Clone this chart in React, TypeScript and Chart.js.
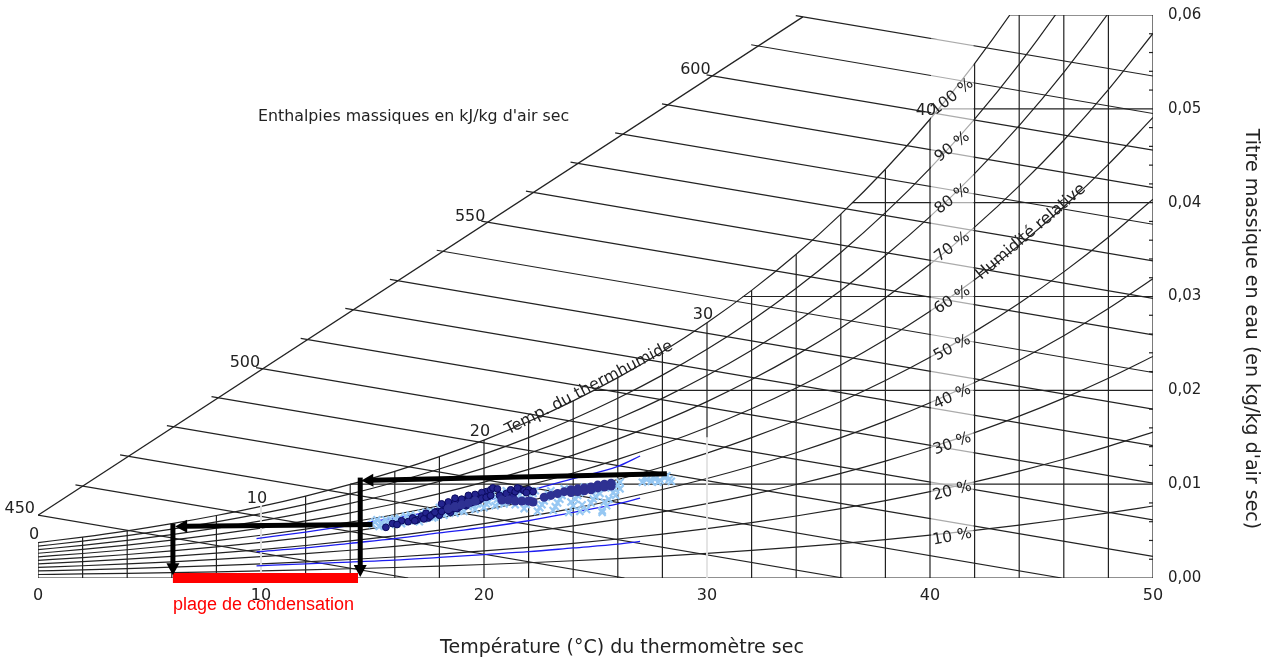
import React, { useEffect, useRef } from "react";
import { Chart, registerables } from "chart.js";

Chart.register(...registerables);

// ---------- Psychrometric grid ----------
const dryBulbTemps = [0, 2, 4, 6, 8, 10, 12, 14, 16, 18, 20, 22, 24, 26, 28, 30, 32, 34, 36, 38, 40, 42, 44, 46, 48, 50];
const saturationPressureKPa = [0.611, 0.706, 0.813, 0.935, 1.073, 1.228, 1.403, 1.599, 1.818, 2.064, 2.339, 2.645, 2.985, 3.363, 3.782, 4.246, 4.759, 5.324, 5.947, 6.632, 7.384, 8.208, 9.112, 10.099, 11.177, 12.352];
const atmosphericPressureKPa = 101.325;
const relativeHumidityLevels = [0.1, 0.2, 0.3, 0.4, 0.5, 0.6, 0.7, 0.8, 0.9, 1.0];
const rhLabelTexts = ["10 %", "20 %", "30 %", "40 %", "50 %", "60 %", "70 %", "80 %", "90 %", "100 %"];
const rhLabelMoisture = [0.00437, 0.00927, 0.01428, 0.01929, 0.02451, 0.02963, 0.03528, 0.04039, 0.04593, 0.05126];
const rhLabelAngles = [-10, -15, -20, -25, -28, -33, -37, -38, -38, -38];
const rhLabelTemp = 41;

const moistureGridLevels = [0, 0.01, 0.02, 0.03, 0.04, 0.05, 0.06];
const moistureGridStartTemp = [0, 14.0, 24.9, 31.6, 36.5, 40.4, 43.6];
const moistureMinorTicks = [0.002, 0.004, 0.006, 0.008, 0.012, 0.014, 0.016, 0.018, 0.022, 0.024, 0.026, 0.028, 0.032, 0.034, 0.036, 0.038, 0.042, 0.044, 0.046, 0.048, 0.052, 0.054, 0.056, 0.058];

const enthalpyScaleValues = [450, 460, 470, 480, 490, 500, 510, 520, 530, 540, 550, 560, 570, 580, 590, 600, 610, 620];
const enthalpyStartTemp = [0.0, 2.0, 4.0, 6.1, 8.1, 10.1, 12.1, 14.1, 16.1, 18.2, 20.2, 22.2, 24.2, 26.2, 28.3, 30.3, 32.3, 34.3];
const enthalpyStartMoisture = [0.0067, 0.0098, 0.013, 0.0161, 0.0192, 0.0223, 0.0254, 0.0286, 0.0317, 0.0348, 0.0379, 0.0411, 0.0442, 0.0473, 0.0504, 0.0535, 0.0567, 0.0598];
const enthalpyEndTemp = [16.6, 26.3, 36.1, 45.9, 50, 50, 50, 50, 50, 50, 50, 50, 50, 50, 50, 50, 50, 50];
const enthalpyEndMoisture = [0, 0, 0, 0, 0.0023, 0.0062, 0.0101, 0.0141, 0.018, 0.0219, 0.0259, 0.0298, 0.0338, 0.0377, 0.0416, 0.0456, 0.0495, 0.0535];
const enthalpyLabeledValues = [450, 500, 550, 600];
const wetBulbLabelTemps = [0, 10, 20, 30, 40];

const whiteGapTemps = [10, 30];
const whiteGapTop = [0.008, 0.015];

// ---------- Measured data ----------
const measuredCurveTemps = [9.8, 12, 14, 16, 18, 20, 22, 24, 26, 27];
const measuredCurveHigh = [0.0042, 0.0049, 0.0056, 0.0064, 0.0072, 0.0082, 0.0093, 0.0106, 0.0119, 0.013];
const measuredCurveMid = [0.0028, 0.0032, 0.0037, 0.0042, 0.0048, 0.0054, 0.0061, 0.007, 0.0079, 0.0085];
const measuredCurveLow = [0.0013, 0.0015, 0.0017, 0.0019, 0.0022, 0.0025, 0.0028, 0.0032, 0.0036, 0.0039];

const lightBlueTemp = [15.0, 15.1, 15.3, 15.4, 15.6, 15.8, 15.9, 16.1, 16.2, 16.4, 16.6, 16.7, 16.9, 17.0, 17.2, 17.3, 17.5, 17.6, 17.8, 17.9, 18.1, 18.2, 18.4, 18.5, 18.7, 18.8, 19.0, 19.1, 19.3, 19.4, 19.6, 19.7, 19.9, 20.0, 20.2, 20.3, 20.5, 20.6, 20.8, 20.9, 21.1, 21.3, 21.4, 21.6, 21.8, 22.0, 22.2, 22.4, 22.6, 22.8, 23.0, 23.1, 23.3, 23.5, 23.6, 23.8, 24.0, 24.1, 24.3, 24.5, 24.6, 24.8, 25.0, 25.1, 25.3, 25.5, 25.6, 25.8, 26.0, 26.1, 27.1, 27.3, 27.5, 27.7, 27.9, 28.1, 28.3, 28.4, 27.6,
  15.2, 15.5, 15.7, 16.0, 16.3, 16.5, 16.8, 17.1, 17.4, 17.7, 18.0, 18.3, 18.6, 18.9, 19.2, 19.5, 19.8, 20.1, 20.4, 20.7, 21.0, 21.2, 21.5, 21.7, 21.9, 22.1, 22.3, 22.5, 22.7, 22.9, 23.2, 23.4, 23.7, 23.9, 24.2, 24.4, 24.7, 24.9, 25.2, 25.4, 25.7, 25.9, 26.1, 27.2, 27.8, 28.2, 24.3, 25.3];
const lightBlueMoisture = [0.0057, 0.006, 0.0055, 0.0059, 0.0062, 0.0057, 0.0061, 0.0059, 0.0064, 0.006, 0.0063, 0.0067, 0.0061, 0.0065, 0.0069, 0.0063, 0.0067, 0.0071, 0.0065, 0.0069, 0.0073, 0.0067, 0.0071, 0.0076, 0.0069, 0.0074, 0.0078, 0.0071, 0.0076, 0.0081, 0.0073, 0.0079, 0.0085, 0.0075, 0.0081, 0.0088, 0.0077, 0.0084, 0.0091, 0.0079, 0.0086, 0.0092, 0.0078, 0.0088, 0.0074, 0.0082, 0.009, 0.0071, 0.0078, 0.0086, 0.0093, 0.0072, 0.008, 0.0088, 0.0095, 0.007, 0.0077, 0.0084, 0.0091, 0.0097, 0.0073, 0.008, 0.0087, 0.0094, 0.007, 0.0077, 0.0084, 0.0091, 0.0099, 0.0102, 0.0102, 0.0105, 0.0103, 0.0106, 0.0104, 0.0107, 0.0105, 0.0103, 0.0108,
  0.0062, 0.0056, 0.006, 0.0063, 0.0058, 0.0066, 0.0063, 0.006, 0.007, 0.0064, 0.0075, 0.0069, 0.0079, 0.0072, 0.0083, 0.0077, 0.0088, 0.0079, 0.009, 0.008, 0.0093, 0.0081, 0.009, 0.0085, 0.0078, 0.0087, 0.0093, 0.0075, 0.0082, 0.0089, 0.0076, 0.0084, 0.0092, 0.0081, 0.0088, 0.0078, 0.0095, 0.0084, 0.009, 0.0081, 0.0096, 0.0088, 0.0095, 0.0107, 0.0102, 0.0109, 0.0071, 0.0072];

const navyTemp = [15.6, 15.9, 16.3, 16.6, 16.8, 17.0, 17.2, 17.4, 17.5, 17.7, 17.9, 18.0, 18.2, 18.3, 18.5, 18.6, 18.8, 18.9, 19.1, 19.2, 19.4, 19.5, 19.7, 19.8, 20.0, 20.1, 20.3, 20.4, 20.2, 19.9, 19.6, 19.3, 19.0, 18.7, 20.7, 21.0, 21.2, 21.3, 21.4, 21.6, 21.8, 22.0, 22.2, 22.1,
  16.1, 16.9, 17.3, 17.6, 17.8, 18.1, 18.4, 18.6, 18.9, 19.2, 19.4, 19.7, 19.9, 20.1, 20.3, 18.1, 18.4, 18.7, 19.3, 20.6, 21.5, 21.9];
const navyMoisture = [0.0054, 0.0058, 0.0061, 0.006, 0.0064, 0.0062, 0.0066, 0.0069, 0.0064, 0.0068, 0.0071, 0.0067, 0.0073, 0.0076, 0.007, 0.0078, 0.0074, 0.008, 0.0083, 0.0077, 0.0085, 0.0081, 0.0087, 0.0083, 0.0089, 0.0092, 0.0094, 0.0096, 0.0087, 0.0091, 0.0089, 0.0086, 0.0084, 0.0082, 0.0088, 0.009, 0.0094, 0.0087, 0.0092, 0.0095, 0.0093, 0.0094, 0.0092, 0.0082,
  0.0057, 0.0061, 0.0063, 0.0066, 0.007, 0.0071, 0.0072, 0.0074, 0.0076, 0.0079, 0.008, 0.0082, 0.0085, 0.0086, 0.0088, 0.0079, 0.0081, 0.0085, 0.0088, 0.0095, 0.0096, 0.0091];

const slateTemp = [18.4, 18.7, 19.0, 19.3, 19.6, 20.8, 21.1, 21.4, 21.7, 22.0, 22.2, 22.7, 23.0, 23.3, 23.6, 23.9, 24.2, 24.5, 24.8, 25.1, 25.4, 25.7, 23.9, 24.2, 24.5, 24.8, 25.1, 25.4, 25.7];
const slateMoisture = [0.0074, 0.0076, 0.0078, 0.008, 0.0082, 0.0083, 0.0083, 0.0082, 0.0082, 0.0082, 0.0081, 0.0086, 0.0088, 0.009, 0.0092, 0.0094, 0.0095, 0.0096, 0.0097, 0.0099, 0.01, 0.0101, 0.0091, 0.0092, 0.0093, 0.0094, 0.0096, 0.0097, 0.0098];

// condensation construction (arrows) and range
const arrowFromTemp = [28.2, 14.45, 15.0, 6.05];
const arrowFromMoisture = [0.0111, 0.0107, 0.0057, 0.0058];
const arrowToTemp = [14.5, 14.45, 6.15, 6.05];
const arrowToMoisture = [0.0104, 0.0001, 0.0055, 0.0003];
const condensationFromTemp = 6.05;
const condensationToTemp = 14.35;

const FONT = '"DejaVu Sans", sans-serif';

function humidityRatio(p: number) {
  return (0.622 * p) / (atmosphericPressureKPa - p);
}

const annotationPlugin = {
  id: "psychroAnnotations",
  afterDatasetsDraw(chart: any) {
    const { ctx, scales } = chart;
    const X = (v: number) => scales.x.getPixelForValue(v);
    const Y = (v: number) => scales.y.getPixelForValue(v);
    const satW = saturationPressureKPa.map(humidityRatio);
    ctx.save();

    // faded column behind the relative humidity labels
    ctx.fillStyle = "rgba(255,255,255,0.62)";
    ctx.fillRect(X(40) + 1, Y(0.0575), X(42) - X(40) - 2, Y(0.0035) - Y(0.0575));

    // small inner ticks on the right edge
    ctx.strokeStyle = "#222";
    ctx.lineWidth = 1.2;
    for (const v of moistureMinorTicks) {
      ctx.beginPath();
      ctx.moveTo(X(50) - 4, Y(v));
      ctx.lineTo(X(50), Y(v));
      ctx.stroke();
    }

    const text = (s: string, px: number, py: number, size: number, align: CanvasTextAlign = "center", angleDeg = 0, color = "#222", family = FONT) => {
      ctx.save();
      ctx.translate(px, py);
      ctx.rotate((angleDeg * Math.PI) / 180);
      ctx.font = `${size}px ${family}`;
      ctx.fillStyle = color;
      ctx.textAlign = align;
      ctx.textBaseline = "middle";
      ctx.fillText(s, 0, 0);
      ctx.restore();
    };

    // relative humidity labels
    rhLabelTexts.forEach((s, i) => text(s, X(rhLabelTemp), Y(rhLabelMoisture[i]), 15.5, "center", rhLabelAngles[i]));

    // wet bulb labels on the saturation curve
    wetBulbLabelTemps.forEach((t) => {
      const i = dryBulbTemps.indexOf(t);
      text(String(t), X(t) - 4, Y(satW[i]) - 8, 16);
    });

    // enthalpy scale labels
    enthalpyLabeledValues.forEach((v) => {
      const k = enthalpyScaleValues.indexOf(v);
      text(String(v), X(enthalpyStartTemp[k]) - 3, Y(enthalpyStartMoisture[k]) - 6, 16, "right");
    });

    // titles
    text("Enthalpies massiques en kJ/kg d'air sec", 258, 117, 15.8, "left");
    text("Temp. du thermhumide", 589, 388, 16, "center", -27.5);
    text("Humidité relative", 1031, 232, 16, "center", -40.5);
    text("Température (°C) du thermomètre sec", 622, 648, 19);
    text("Titre massique en eau (en kg/kg d'air sec)", 1251, 329, 19, "center", 90);

    // condensation range
    ctx.fillStyle = "#ff0000";
    ctx.fillRect(X(condensationFromTemp), Y(0) - 5, X(condensationToTemp) - X(condensationFromTemp), 10);
    text("plage de condensation", X(condensationFromTemp), 605, 18, "left", 0, "#ff0000", '"Liberation Sans", Arial, sans-serif');

    // arrows
    ctx.strokeStyle = "#000";
    ctx.fillStyle = "#000";
    arrowFromTemp.forEach((_, i) => {
      const x1 = X(arrowFromTemp[i]);
      const y1 = Y(arrowFromMoisture[i]);
      const x2 = X(arrowToTemp[i]);
      const y2 = Y(arrowToMoisture[i]);
      const ang = Math.atan2(y2 - y1, x2 - x1);
      const headLen = 12;
      const headHalf = 6.5;
      const bx = x2 - headLen * Math.cos(ang);
      const by = y2 - headLen * Math.sin(ang);
      ctx.lineWidth = 5;
      ctx.lineCap = "butt";
      ctx.beginPath();
      ctx.moveTo(x1, y1);
      ctx.lineTo(bx + 2 * Math.cos(ang), by + 2 * Math.sin(ang));
      ctx.stroke();
      ctx.beginPath();
      ctx.moveTo(x2, y2);
      ctx.lineTo(bx - headHalf * Math.sin(ang), by + headHalf * Math.cos(ang));
      ctx.lineTo(bx + headHalf * Math.sin(ang), by - headHalf * Math.cos(ang));
      ctx.closePath();
      ctx.fill();
    });

    ctx.restore();
  },
};

export default function App() {
  const canvasRef = useRef<HTMLCanvasElement | null>(null);

  useEffect(() => {
    const canvas = canvasRef.current;
    if (!canvas) return;
    const gridColor = "#222222";
    const gridWidth = 1.2;
    const satW = saturationPressureKPa.map(humidityRatio);

    const line = (data: any[], color: string, width: number, order: number, extra: any = {}) => ({
      data,
      showLine: true,
      borderColor: color,
      borderWidth: width,
      pointRadius: 0,
      pointHoverRadius: 0,
      fill: false,
      tension: 0,
      order,
      ...extra,
    });

    const datasets: any[] = [];

    // measured points
    datasets.push({
      data: slateTemp.map((t, i) => ({ x: t, y: slateMoisture[i] })),
      pointStyle: "circle",
      pointRadius: 4.5,
      backgroundColor: "#2e3192",
      borderWidth: 0,
      order: 0,
    });
    datasets.push({
      data: navyTemp.map((t, i) => ({ x: t, y: navyMoisture[i] })),
      pointStyle: "circle",
      pointRadius: 3.4,
      backgroundColor: "#24248e",
      borderColor: "#0b0b60",
      borderWidth: 1,
      order: 1,
    });
    datasets.push({
      data: lightBlueTemp.map((t, i) => ({ x: t, y: lightBlueMoisture[i] })),
      pointStyle: "crossRot",
      pointRadius: 5,
      borderColor: "#97c8f3",
      backgroundColor: "#97c8f3",
      borderWidth: 2.2,
      order: 2,
    });

    // measured humidity curves
    [measuredCurveHigh, measuredCurveMid, measuredCurveLow].forEach((arr) => {
      datasets.push(line(measuredCurveTemps.map((t, i) => ({ x: t, y: arr[i] })), "#1c1cf0", 1.3, 3, { cubicInterpolationMode: "monotone" }));
    });

    // white gaps
    whiteGapTemps.forEach((t, i) => {
      datasets.push(line([{ x: t, y: 0 }, { x: t, y: whiteGapTop[i] }], "#ffffff", 1.6, 4));
    });

    // relative humidity curves (incl. saturation)
    relativeHumidityLevels.forEach((phi) => {
      datasets.push(
        line(
          dryBulbTemps.map((t, i) => ({ x: t, y: humidityRatio(phi * saturationPressureKPa[i]) })),
          gridColor,
          gridWidth,
          5,
          { cubicInterpolationMode: "monotone" }
        )
      );
    });

    // dry bulb verticals
    dryBulbTemps.forEach((t, i) => {
      datasets.push(line([{ x: t, y: 0 }, { x: t, y: Math.min(satW[i], 0.06) }], gridColor, gridWidth, 5));
    });

    // moisture horizontals
    moistureGridLevels.forEach((w, i) => {
      datasets.push(line([{ x: moistureGridStartTemp[i], y: w }, { x: 50, y: w }], gridColor, gridWidth, 5));
    });

    // enthalpy lines
    enthalpyScaleValues.forEach((_, k) => {
      const x0 = enthalpyStartTemp[k];
      const y0 = enthalpyStartMoisture[k];
      const x1 = enthalpyEndTemp[k];
      const y1 = enthalpyEndMoisture[k];
      const slope = (y1 - y0) / (x1 - x0);
      datasets.push(line([{ x: x0 - 0.32, y: y0 - 0.32 * slope }, { x: x1, y: y1 }], gridColor, gridWidth, 5));
    });

    // enthalpy scale (diagonal)
    const last = enthalpyStartTemp.length - 1;
    datasets.push(
      line(
        [
          { x: enthalpyStartTemp[0], y: enthalpyStartMoisture[0] },
          { x: enthalpyStartTemp[last], y: enthalpyStartMoisture[last] },
        ],
        gridColor,
        gridWidth,
        5
      )
    );

    const chart = new Chart(canvas, {
      type: "scatter",
      data: { datasets },
      options: {
        responsive: false,
        animation: false,
        devicePixelRatio: 1,
        events: [],
        layout: { padding: { left: 38, top: 15, right: 0, bottom: 0 } },
        plugins: { legend: { display: false }, tooltip: { enabled: false } },
        scales: {
          x: {
            type: "linear",
            min: 0,
            max: 50,
            position: "bottom",
            grid: { display: false, drawTicks: false },
            border: { display: false },
            ticks: { stepSize: 10, padding: 8, color: "#222", autoSkip: false, maxRotation: 0, font: { family: FONT, size: 16 } },
            afterFit: (s: any) => {
              s.height = 88;
              s.paddingLeft = 0;
              s.paddingRight = 0;
            },
          },
          y: {
            type: "linear",
            min: 0,
            max: 0.06,
            position: "right",
            grid: { display: false, drawTicks: false },
            border: { display: false },
            ticks: {
              stepSize: 0.01,
              padding: 15,
              color: "#222",
              font: { family: FONT, size: 15 },
              callback: (v: any) => Number(v).toFixed(2).replace(".", ","),
            },
            afterFit: (s: any) => {
              s.width = 125;
              s.paddingTop = 0;
              s.paddingBottom = 0;
            },
          },
        },
      } as any,
      plugins: [annotationPlugin],
    });

    return () => chart.destroy();
  }, []);

  return (
    <div style={{ position: "fixed", left: 0, top: 0, width: 1278, height: 666, background: "#fff" }}>
      <canvas ref={canvasRef} width={1278} height={666} style={{ display: "block", width: 1278, height: 666 }} />
    </div>
  );
}
